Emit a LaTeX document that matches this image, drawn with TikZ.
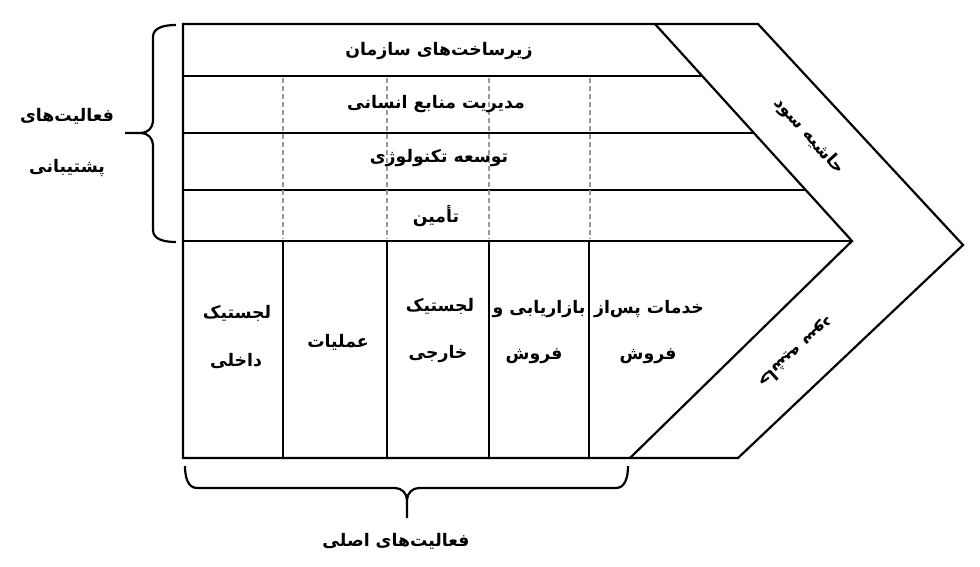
\documentclass[tikz,border=0pt]{standalone}
\usepackage{fontspec}
\newfontfamily\fa[Script=Arabic]{DejaVu Sans}
\TeXXeTstate=1
\tikzset{
  frame/.style={line width=2.2pt, line join=miter},
  dsh/.style={line width=1.3pt, draw=gray!80, dash pattern=on 5pt off 3pt},
  brace/.style={line width=2.2pt},
  txt/.style={font=\fa\bfseries\fontsize{17.3}{20}\selectfont, inner sep=0pt, text=black},
}
\begin{document}
\begin{tikzpicture}[x=1pt,y=-1pt]
\useasboundingbox (0,0) rectangle (980,567);
% key points
\coordinate (tl) at (183,24);
\coordinate (bl) at (183,458);
\coordinate (itop) at (655,24);
\coordinate (itip) at (852,241);
\coordinate (ibot) at (630,458);
\coordinate (otop) at (758,24);
\coordinate (otip) at (963,245);
\coordinate (obot) at (738,458);
% outer frame
\draw[frame] (bl) -- (tl) -- (otop) -- (otip) -- (obot) -- cycle;
\draw[frame] (itop) -- (itip) -- (ibot);
% support rows
\draw[frame] (183,76) -- (702,76);
\draw[frame] (183,133) -- (754,133);
\draw[frame] (183,190) -- (806,190);
\draw[frame] (183,241) -- (itip);
% dashed verticals
\foreach \x in {283,387,489,590} \draw[dsh] (\x,78) -- (\x,239);
% primary columns
\foreach \x in {283,387,489,589} \draw[frame] (\x,241) -- (\x,458);
% left brace
\draw[brace] (176,25) to[out=180,in=90] (153,37) -- (153,121) to[out=-90,in=0] (141,133) -- (125,133);
\draw[brace] (141,133) to[out=0,in=90] (153,145) -- (153,230) to[out=-90,in=180] (176,242);
% bottom brace
\draw[brace] (185,466) to[out=-90,in=180] (197,488) -- (395,488) to[out=0,in=90] (407,500) -- (407,518);
\draw[brace] (407,500) to[out=90,in=180] (419,488) -- (616,488) to[out=0,in=-90] (628,466);
% support texts
\node[txt] (s1) at (439,51) {\beginR زیرساخت^^^^200cهای سازمان\endR};
\node[txt] (s2) at (436,104) {\beginR مدیریت منابع انسانی\endR};
\node[txt] (s3) at (439,158) {\beginR توسعه تکنولوژی\endR};
\node[txt] (s4) at (436,216) {\beginR تأمین\endR};
% left labels
\node[txt] (l1) at (67,116) {\beginR فعالیت^^^^200cهای\endR};
\node[txt] (l2) at (67,168) {\beginR پشتیبانی\endR};
% primary texts
\node[txt] (p1a) at (237,313) {\beginR لجستیک\endR};
\node[txt] (p1b) at (236,361) {\beginR داخلی\endR};
\node[txt] (p2) at (338,342) {\beginR عملیات\endR};
\node[txt] (p3a) at (440,306) {\beginR لجستیک\endR};
\node[txt] (p3b) at (438,354) {\beginR خارجی\endR};
\node[txt] (p4a) at (539,309) {\beginR بازاریابی و\endR};
\node[txt] (p4b) at (534,356) {\beginR فروش\endR};
\node[txt] (p5a) at (649,309) {\beginR خدمات پس^^^^200cاز\endR};
\node[txt] (p5b) at (648,356) {\beginR فروش\endR};
% bottom label
\node[txt] (b1) at (396,541) {\beginR فعالیت^^^^200cهای اصلی\endR};
% margin
\node[txt, rotate=-48] (m1) at (809,136) {\beginR حاشیه سود\endR};
\node[txt, rotate=-138] (m2) at (796,352) {\beginR حاشیه سود\endR};
\end{tikzpicture}
\end{document}
